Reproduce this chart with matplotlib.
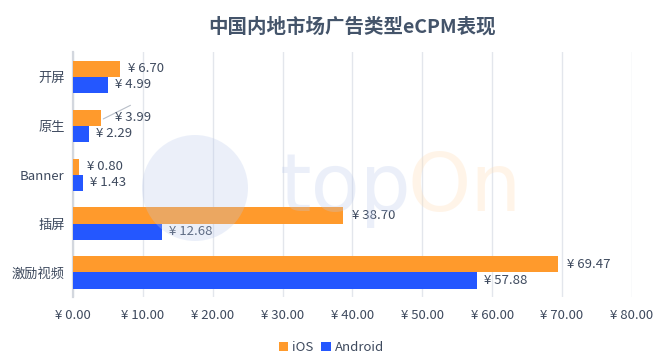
import matplotlib.pyplot as plt
import numpy as np
from matplotlib.patches import Circle

plt.rcParams['font.family'] = ['Noto Sans CJK SC', 'DejaVu Sans']

# Datos
categorias = ['开屏', '原生', 'Banner', '插屏', '激励视频']
ios = [6.70, 3.99, 0.80, 38.70, 69.47]
android = [4.99, 2.29, 1.43, 12.68, 57.88]
ticks_x = [0, 10, 20, 30, 40, 50, 60, 70, 80]

color_ios = '#FF9A2C'
color_android = '#2457FF'
color_texto = '#3E4A5E'

fig = plt.figure(figsize=(6.63, 3.62), dpi=100)
ax = fig.add_axes([0.110, 0.180, 0.843, 0.675])

y = np.arange(len(categorias))
h = 0.33
ax.barh(y - h / 2, ios, height=h, color=color_ios, label='iOS', zorder=3)
ax.barh(y + h / 2, android, height=h, color=color_android, label='Android', zorder=3)

for i in range(len(categorias)):
    if categorias[i] == '原生':
        # etiqueta desplazada con línea guía
        ax.annotate('', xy=(ios[i], y[i] - h / 2 + 0.05), xytext=(ios[i] + 4.6, y[i] - h / 2 - 0.28),
                    arrowprops=dict(arrowstyle='-', color='#B8BEC8', lw=0.8), zorder=4)
        ax.text(ios[i] + 2.0, y[i] - h / 2, '¥ %.2f' % ios[i], va='center', ha='left',
                fontsize=9.5, color=color_texto, zorder=4)
    else:
        ax.text(ios[i] + 1.2, y[i] - h / 2, '¥ %.2f' % ios[i], va='center', ha='left',
                fontsize=9.5, color=color_texto, zorder=4)
    ax.text(android[i] + 1.0, y[i] + h / 2, '¥ %.2f' % android[i], va='center', ha='left',
            fontsize=9.5, color=color_texto, zorder=4)

ax.set_ylim(len(categorias) - 0.5, -0.5)
ax.set_xlim(0, 80)
ax.set_yticks(y)
ax.set_yticklabels(categorias)
ax.set_xticks(ticks_x)
ax.set_xticklabels(['¥ %.2f' % t for t in ticks_x])
ax.tick_params(axis='both', length=0, labelsize=9.5, colors=color_texto)
ax.tick_params(axis='x', pad=9)
ax.tick_params(axis='y', pad=6)

ax.grid(axis='x', color='#E3E6EC', lw=1, zorder=0)
ax.set_axisbelow(True)
for s in ['top', 'right', 'bottom']:
    ax.spines[s].set_visible(False)
ax.spines['left'].set_color('#D3D7DE')
ax.spines['left'].set_linewidth(1.6)

ax.set_title('中国内地市场广告类型eCPM表现', fontsize=14, fontweight='bold', color='#44546A', pad=14)

fig.legend(loc='lower center', bbox_to_anchor=(0.5, -0.01), ncol=2, frameon=False,
           fontsize=9.5, handlelength=0.7, handleheight=0.7, handletextpad=0.3,
           columnspacing=0.6, labelcolor=color_texto)

# Marca de agua semitransparente por encima
wm = fig.add_axes([0, 0, 1, 1], zorder=5)
wm.set_xlim(0, 663)
wm.set_ylim(362, 0)
wm.axis('off')
wm.patch.set_alpha(0)
wm.add_patch(Circle((195, 188), 53, facecolor='#B9C9EC', edgecolor='none', alpha=0.28))
wm.text(280, 211, 'top', fontsize=58, color='#B9C9EC', alpha=0.28, va='baseline', ha='left',
        family='DejaVu Sans')
wm.text(408, 211, 'On', fontsize=58, color='#FFDDB5', alpha=0.3, va='baseline', ha='left',
        family='DejaVu Sans')

fig.savefig('out.png', dpi=100)
